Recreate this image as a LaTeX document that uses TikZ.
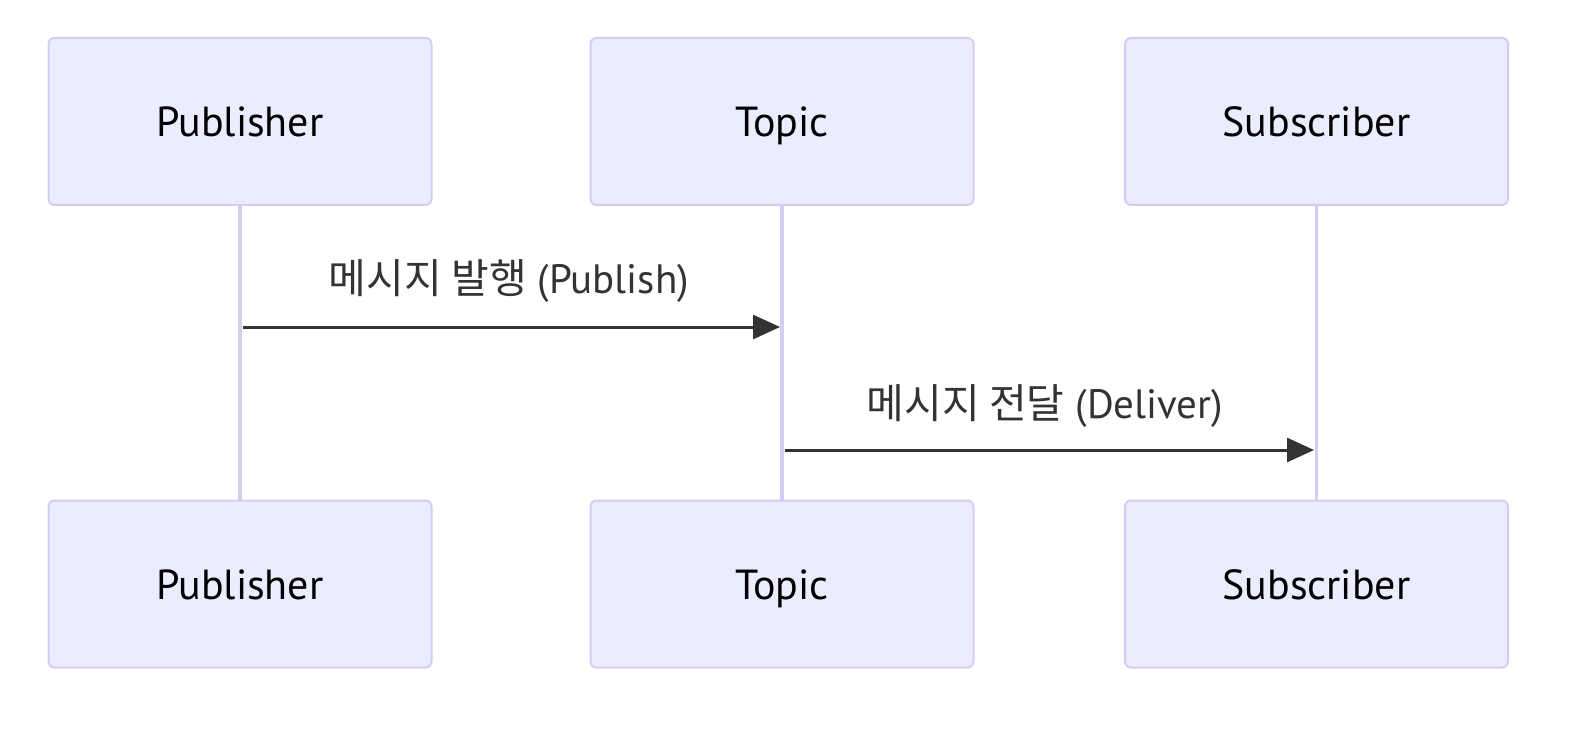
\documentclass[tikz,border=0pt]{standalone}
\usepackage{fontspec}
\setmainfont{PT Sans}
\newfontfamily\cjk{Noto Sans CJK KR}
\usetikzlibrary{arrows.meta}
\definecolor{actfill}{HTML}{ECECFF}
\definecolor{actborder}{HTML}{D4CCF3}
\definecolor{msgcol}{HTML}{333333}
\begin{document}
\begin{tikzpicture}[x=0.5pt,y=-0.5pt,
  actor/.style={draw=actborder,fill=actfill,line width=1pt,rounded corners=3pt,
    minimum width=191.5pt,minimum height=83.5pt,inner sep=0pt,text height=17pt,text depth=2pt,
    font=\fontsize{21}{25}\selectfont,text=black},
  life/.style={draw=actborder,line width=1.6pt},
  msg/.style={draw=msgcol,line width=1.5pt,-{Triangle[length=13.5pt,width=12pt]}},
  lbl/.style={font=\fontsize{20.5}{24}\selectfont,text=msgcol,inner sep=0pt}]
\useasboundingbox (0,0) rectangle (1570,738);
\node[actor] (pt) at (240,121.5) {Publisher};
\node[actor] (tt) at (782,121.5) {Topic};
\node[actor] (st) at (1316.5,121.5) {Subscriber};
\node[actor] (pb) at (240,584) {Publisher};
\node[actor] (tb) at (782,584) {Topic};
\node[actor] (sb) at (1316.5,584) {Subscriber};
\draw[life] (pt.south) -- (pb.north);
\draw[life] (tt.south) -- (tb.north);
\draw[life] (st.south) -- (sb.north);
\coordinate (a1s) at (243,327);
\coordinate (a1e) at (780,327);
\coordinate (a2s) at (785,450);
\coordinate (a2e) at (1314,450);
\draw[msg] (a1s) -- (a1e);
\draw[msg] (a2s) -- (a2e);
\node[lbl] (l1) at (509,281) {{\cjk 메시지 발행} (Publish)};
\node[lbl] (l2) at (1045,406) {{\cjk 메시지 전달} (Deliver)};
\end{tikzpicture}
\end{document}
